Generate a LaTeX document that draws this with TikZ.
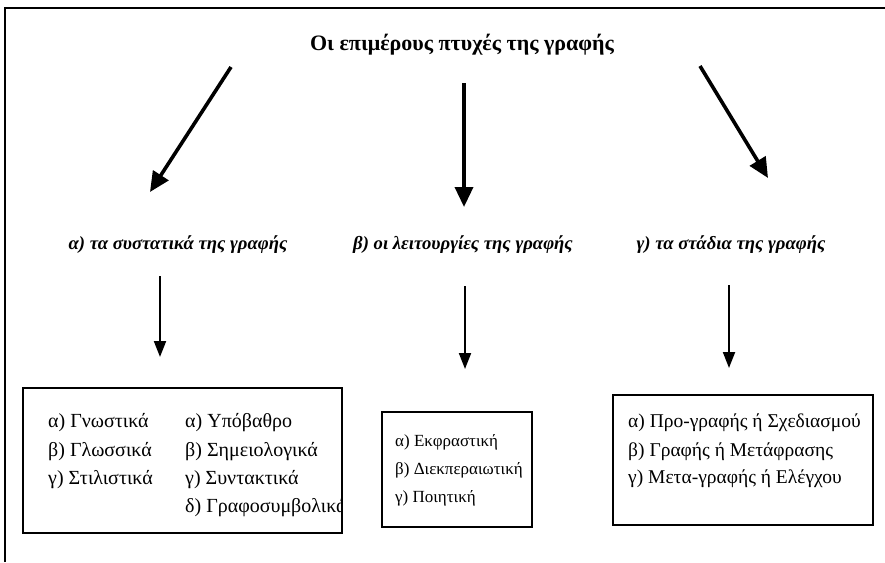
\documentclass[tikz,border=0pt]{standalone}
\usepackage{fontspec}
\setmainfont{Liberation Serif}
\usetikzlibrary{arrows.meta}
\begin{document}
\begin{tikzpicture}[x=1pt,y=-1pt,
  txt/.style={inner sep=0pt,anchor=west,font=\fontsize{20}{22}\selectfont},
  txtb/.style={inner sep=0pt,anchor=west,font=\fontsize{17}{19}\selectfont},
  txtc/.style={inner sep=0pt,anchor=west,font=\fontsize{19.5}{22}\selectfont},
  lbl/.style={inner sep=0pt,font=\fontsize{18.7}{21}\selectfont\bfseries\itshape},
  bigarrow/.style={line width=3.6pt,-{Triangle[length=20pt,width=18pt]}},
  smallarrow/.style={line width=2pt,-{Triangle[length=16pt,width=12pt]}},
  boxframe/.style={draw,line width=1.6pt}]
\useasboundingbox (0,0) rectangle (885,562);
% outer frame
\draw[line width=1.8pt] (5,562) -- (5,8) -- (885,8);
% title
\node[inner sep=0pt,font=\fontsize{22}{24}\selectfont\bfseries] (title) at (462,45) {Οι επιμέρους πτυχές της γραφής};
% sublabels
\node[lbl] (la) at (178,245) {α) τα συστατικά της γραφής};
\node[lbl] (lb) at (463,245) {β) οι λειτουργίες της γραφής};
\node[lbl] (lc) at (731,245) {γ) τα στάδια της γραφής};
% big arrows
\coordinate (a1s) at (231,67);  \coordinate (a1e) at (150,192);
\coordinate (a2s) at (464,83);  \coordinate (a2e) at (464,207);
\coordinate (a3s) at (700,66);  \coordinate (a3e) at (768,178);
\draw[bigarrow] (a1s) -- (a1e);
\draw[bigarrow] (a2s) -- (a2e);
\draw[bigarrow] (a3s) -- (a3e);
% boxes
\node[boxframe,minimum width=319pt,minimum height=145pt,inner sep=0pt] (b1) at (182.5,460.5) {};
\node[boxframe,minimum width=150pt,minimum height=115pt,inner sep=0pt] (b2) at (457,469.5) {};
\node[boxframe,minimum width=260pt,minimum height=130pt,inner sep=0pt] (b3) at (743,460) {};
% small arrows
\coordinate (s1s) at (160,276); \coordinate (s1e) at (160,357);
\coordinate (s2s) at (465,286); \coordinate (s2e) at (465,369);
\coordinate (s3s) at (729,285); \coordinate (s3e) at (729,368);
\draw[smallarrow] (s1s) -- (s1e);
\draw[smallarrow] (s2s) -- (s2e);
\draw[smallarrow] (s3s) -- (s3e);
% box 1 text
\begin{scope}
\clip (b1.south west) rectangle (b1.north east);
\node[txt] (b1a) at (48,423) {α) Γνωστικά};
\node[txt] (b1b) at (48,452) {β) Γλωσσικά};
\node[txt] (b1c) at (48,480) {γ) Στιλιστικά};
\node[txt] (b1d) at (185,423) {α) Υπόβαθρο};
\node[txt] (b1e) at (185,452) {β) Σημειολογικά};
\node[txt] (b1f) at (185,480) {γ) Συντακτικά};
\node[txt] (b1g) at (185,508) {δ) Γραφοσυμβολικά};
\end{scope}
\node[boxframe,minimum width=319pt,minimum height=145pt,inner sep=0pt] at (b1) {};
% box 2 text
\node[txtb] (b2a) at (395,442) {α) Εκφραστική};
\node[txtb] (b2b) at (395,470) {β) Διεκπεραιωτική};
\node[txtb] (b2c) at (395,498) {γ) Ποιητική};
% box 3 text
\node[txtc] (b3a) at (628,423) {α) Προ-γραφής ή Σχεδιασμού};
\node[txtc] (b3b) at (628,452) {β) Γραφής ή Μετάφρασης};
\node[txtc] (b3c) at (628,479) {γ) Μετα-γραφής ή Ελέγχου};
\end{tikzpicture}
\end{document}
